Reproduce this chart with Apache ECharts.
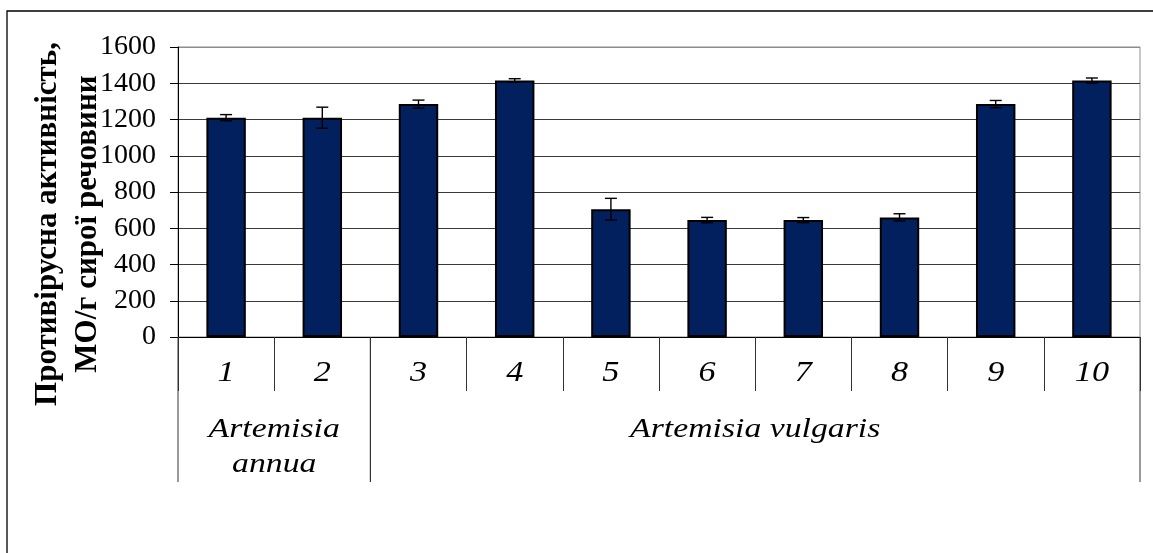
<!DOCTYPE html>
<html>
<head>
<meta charset="utf-8">
<script src="https://cdn.jsdelivr.net/npm/echarts@6/dist/echarts.min.js"></script>
<style>
  html, body { margin: 0; padding: 0; background: #fff; }
  #chart { width: 1153px; height: 553px; }
</style>
</head>
<body>
<div id="chart"></div>
<script>
// Antiviral activity of plant extracts (IU per gram of fresh matter)
const categories = ['1', '2', '3', '4', '5', '6', '7', '8', '9', '10'];
const means = [1210, 1210, 1285, 1415, 705, 645, 645, 660, 1285, 1415];
const errors = [17, 58, 22, 10, 60, 15, 14, 20, 20, 14];

// Species groups: first and last category index of each group
const groupNames = ['Artemisia\nannua', 'Artemisia vulgaris'];
const groupStart = [0, 2];
const groupEnd = [1, 9];

const yTicks = { min: 0, max: 1600, interval: 200 };
const yTitle = 'Противірусна активність,\nМО/г сирої речовини';

const serif = 'Liberation Serif';

const chart = echarts.init(document.getElementById('chart'), null, { renderer: 'canvas' });

// grid lines: dark inside, light gray at the top edge
const splitColors = [];
for (let v = yTicks.min; v <= yTicks.max; v += yTicks.interval) {
  splitColors.push(v === yTicks.max ? '#8c8c8c' : '#3a3a3a');
}

const errorData = means.map((m, i) => [i, m, errors[i]]);
const groupData = groupStart.map((s, i) => [s, groupEnd[i]]);
const labelData = categories.map((c, i) => [i, 0]);

chart.setOption({
  animation: false,
  backgroundColor: '#fff',
  grid: {
    left: 178, right: 13, top: 47, bottom: 216,
    show: true, borderColor: '#8c8c8c', borderWidth: 1, backgroundColor: 'transparent'
  },
  xAxis: {
    type: 'category',
    data: categories,
    boundaryGap: true,
    axisLine: { lineStyle: { color: '#000', width: 1 } },
    axisTick: { show: true, length: 54, lineStyle: { color: '#333', width: 1 } },
    axisLabel: { show: false },
    splitLine: { show: false }
  },
  yAxis: {
    type: 'value',
    min: yTicks.min,
    max: yTicks.max,
    interval: yTicks.interval,
    axisLine: { show: true, lineStyle: { color: '#000', width: 1 } },
    axisTick: { show: true, length: 8, lineStyle: { color: '#000' } },
    axisLabel: {
      margin: 22,
      color: '#000',
      fontFamily: serif,
      fontSize: 28,
      formatter: function (v) { return String(v); }
    },
    splitLine: { show: true, lineStyle: { color: splitColors, width: 1 } }
  },
  graphic: [
    {
      type: 'rect',
      shape: { x: 7, y: 11, width: 1170, height: 570 },
      style: { fill: 'none', stroke: '#000', lineWidth: 1.3 },
      silent: true,
      z: -10
    },
    {
      type: 'text',
      x: 68,
      y: 224,
      rotation: Math.PI / 2,
      style: {
        text: yTitle,
        fontFamily: serif,
        fontWeight: 'bold',
        fontSize: 31,
        lineHeight: 40,
        fill: '#000',
        textAlign: 'center',
        textVerticalAlign: 'middle'
      },
      silent: true
    }
  ],
  series: [
    {
      type: 'bar',
      data: means,
      barWidth: '41%',
      itemStyle: { color: '#02205e', borderColor: '#000', borderWidth: 2 },
      z: 2
    },
    {
      type: 'custom',
      data: errorData,
      z: 3,
      renderItem: function (params, api) {
        const i = api.value(0);
        const m = api.value(1);
        const e = api.value(2);
        const top = api.coord([i, m + e]);
        const bot = api.coord([i, m - e]);
        const half = 6;
        const st = { stroke: '#000', lineWidth: 1.4 };
        return {
          type: 'group',
          children: [
            { type: 'line', shape: { x1: top[0], y1: top[1], x2: bot[0], y2: bot[1] }, style: st },
            { type: 'line', shape: { x1: top[0] - half, y1: top[1], x2: top[0] + half, y2: top[1] }, style: st },
            { type: 'line', shape: { x1: bot[0] - half, y1: bot[1], x2: bot[0] + half, y2: bot[1] }, style: st }
          ]
        };
      }
    },
    {
      // category numbers under the axis (slightly widened italic)
      type: 'custom',
      data: labelData,
      clip: false,
      z: 3,
      renderItem: function (params, api) {
        const p = api.coord([api.value(0), 0]);
        return {
          type: 'text',
          x: p[0],
          y: p[1] + 36,
          scaleX: 1.18,
          style: {
            text: categories[params.dataIndex],
            fontFamily: serif,
            fontStyle: 'italic',
            fontSize: 29,
            fill: '#000',
            textAlign: 'center',
            textVerticalAlign: 'middle'
          }
        };
      }
    },
    {
      // species group brackets below the category labels
      type: 'custom',
      data: groupData,
      clip: false,
      z: 3,
      renderItem: function (params, api) {
        const s = api.value(0);
        const e = api.value(1);
        const bw = api.size([1, 0])[0];
        const p0 = api.coord([s, 0]);
        const p1 = api.coord([e, 0]);
        const xl = p0[0] - bw / 2;
        const xr = p1[0] + bw / 2;
        const y0 = p0[1];
        const depth = 145;
        const st = { stroke: '#333', lineWidth: 1 };
        return {
          type: 'group',
          children: [
            { type: 'line', shape: { x1: xl, y1: y0, x2: xl, y2: y0 + depth }, style: st },
            { type: 'line', shape: { x1: xr, y1: y0, x2: xr, y2: y0 + depth }, style: st },
            {
              type: 'text',
              x: (xl + xr) / 2,
              y: y0 + 75,
              scaleX: 1.25,
              style: {
                text: groupNames[params.dataIndex],
                fontFamily: serif,
                fontStyle: 'italic',
                fontSize: 27,
                lineHeight: 35,
                fill: '#000',
                textAlign: 'center',
                textVerticalAlign: 'top'
              }
            }
          ]
        };
      }
    }
  ]
});
</script>
</body>
</html>
